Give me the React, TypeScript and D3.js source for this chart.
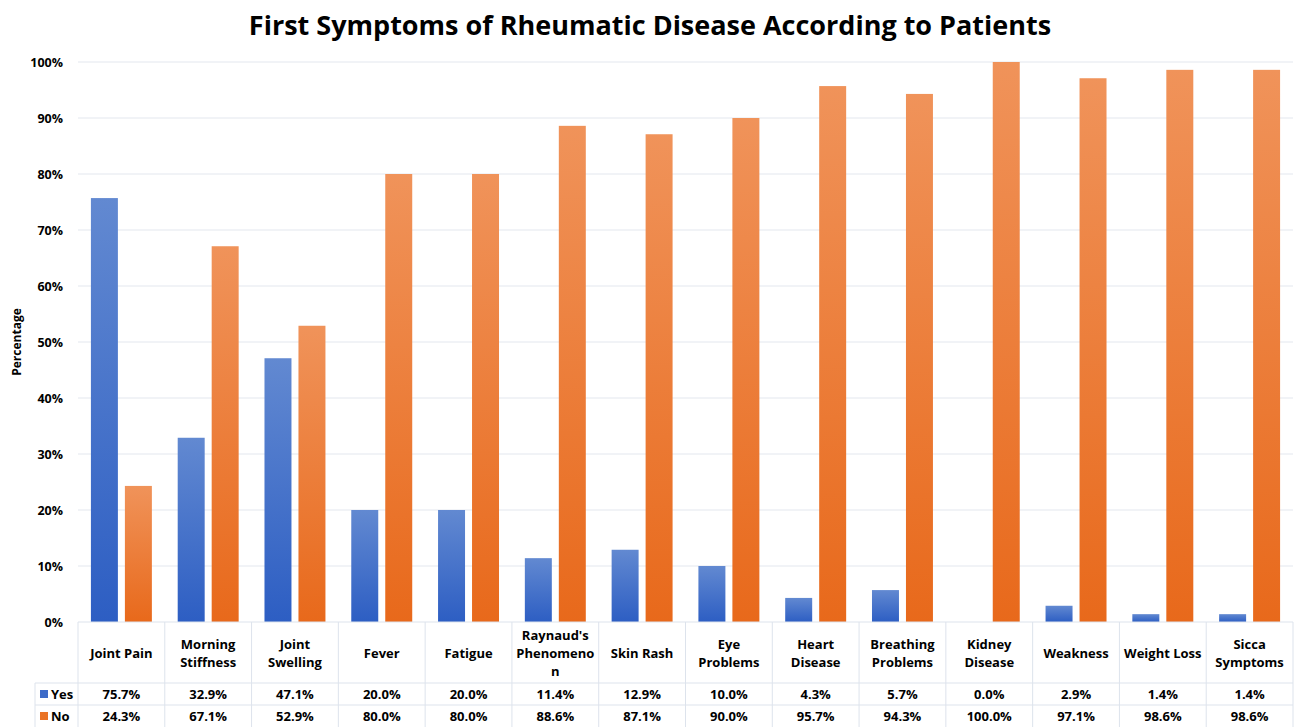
import React from "react";
import * as d3 from "d3";

const categories: string[][] = [
  ["Joint Pain"],
  ["Morning", "Stiffness"],
  ["Joint", "Swelling"],
  ["Fever"],
  ["Fatigue"],
  ["Raynaud's", "Phenomeno", "n"],
  ["Skin Rash"],
  ["Eye", "Problems"],
  ["Heart", "Disease"],
  ["Breathing", "Problems"],
  ["Kidney", "Disease"],
  ["Weakness"],
  ["Weight Loss"],
  ["Sicca", "Symptoms"],
];
const yesValues = [75.7, 32.9, 47.1, 20.0, 20.0, 11.4, 12.9, 10.0, 4.3, 5.7, 0.0, 2.9, 1.4, 1.4];
const noValues = [24.3, 67.1, 52.9, 80.0, 80.0, 88.6, 87.1, 90.0, 95.7, 94.3, 100.0, 97.1, 98.6, 98.6];
const yTicks = [0, 10, 20, 30, 40, 50, 60, 70, 80, 90, 100];
const seriesNames = ["Yes", "No"];

const W = 1296, H = 727;
const left = 78, right = 1293, top = 62, bottom = 622;
const catRowBottom = 683, yesRowBottom = 705, noRowBottom = 727;
const legendLeft = 35;
const font = "'Open Sans', sans-serif";

export default function App() {
  const idx = categories.map((_, i) => String(i));
  const x = d3.scaleBand<string>().domain(idx).range([left, right]).paddingInner(0).paddingOuter(0);
  const y = d3.scaleLinear().domain([0, 100]).range([bottom, top]);
  const bw = x.bandwidth();
  const inner = d3.scaleBand<string>().domain(seriesNames).range([0, bw]).paddingInner(0.206).paddingOuter(0.38);
  const colors = ["url(#gBlue)", "url(#gOrange)"];
  const legendColors = ["#3d6bc8", "#ea7325"];
  const series = [yesValues, noValues];
  const border = "#dde3ec";

  return (
    <svg width={W} height={H} style={{ position: "absolute", left: 0, top: 0 }} fontFamily={font}>
      <defs>
        <linearGradient id="gBlue" x1="0" y1="0" x2="0" y2="1">
          <stop offset="0" stopColor="#6289d1" />
          <stop offset="1" stopColor="#2d5ec3" />
        </linearGradient>
        <linearGradient id="gOrange" x1="0" y1="0" x2="0" y2="1">
          <stop offset="0" stopColor="#f0935a" />
          <stop offset="1" stopColor="#e8691b" />
        </linearGradient>
      </defs>
      <rect width={W} height={H} fill="#fff" />
      <text x={650} y={35} textAnchor="middle" fontSize={27} fontWeight="bold" fill="#000">
        First Symptoms of Rheumatic Disease According to Patients
      </text>
      {yTicks.map((t) => (
        <g key={t}>
          {t > 0 && <line x1={left} x2={right} y1={y(t)} y2={y(t)} stroke="#e3e7ee" strokeWidth={1} />}
          <text x={63} y={y(t) + 4.5} textAnchor="end" fontSize={12.5} fontWeight="bold" fill="#000">
            {t}%
          </text>
        </g>
      ))}
      <text transform={`translate(21,${(top + bottom) / 2}) rotate(-90)`} textAnchor="middle" fontSize={12} fontWeight="bold" fill="#000">
        Percentage
      </text>
      {series.map((vals, s) =>
        vals.map((v, i) => (
          <rect
            key={`${s}-${i}`}
            x={(x(String(i)) as number) + (inner(seriesNames[s]) as number)}
            y={y(v)}
            width={inner.bandwidth()}
            height={bottom - y(v)}
            fill={colors[s]}
          />
        ))
      )}
      {/* table */}
      <line x1={left} x2={right} y1={bottom} y2={bottom} stroke={border} />
      <line x1={legendLeft} x2={right} y1={catRowBottom} y2={catRowBottom} stroke={border} />
      <line x1={legendLeft} x2={right} y1={yesRowBottom} y2={yesRowBottom} stroke={border} />
      <line x1={legendLeft} x2={legendLeft} y1={catRowBottom} y2={noRowBottom} stroke={border} />
      {idx.map((k) => (
        <line key={k} x1={x(k) as number} x2={x(k) as number} y1={bottom} y2={noRowBottom} stroke={border} />
      ))}
      <line x1={right} x2={right} y1={bottom} y2={noRowBottom} stroke={border} />
      {categories.map((lines, i) => {
        const cx = (x(String(i)) as number) + bw / 2;
        const midY = (bottom + catRowBottom) / 2;
        const lh = 18;
        const start = midY - ((lines.length - 1) * lh) / 2 + 5;
        return (
          <g key={i}>
            {lines.map((l, j) => (
              <text key={j} x={cx} y={start + j * lh} textAnchor="middle" fontSize={13} fontWeight="bold" fill="#000">
                {l}
              </text>
            ))}
            <text x={cx} y={(catRowBottom + yesRowBottom) / 2 + 5} textAnchor="middle" fontSize={13} fontWeight="bold" fill="#000">
              {yesValues[i].toFixed(1)}%
            </text>
            <text x={cx} y={(yesRowBottom + noRowBottom) / 2 + 5} textAnchor="middle" fontSize={13} fontWeight="bold" fill="#000">
              {noValues[i].toFixed(1)}%
            </text>
          </g>
        );
      })}
      {seriesNames.map((n, s) => {
        const cy = s === 0 ? (catRowBottom + yesRowBottom) / 2 : (yesRowBottom + noRowBottom) / 2;
        return (
          <g key={n}>
            <rect x={40} y={cy - 4} width={8} height={8} fill={legendColors[s]} />
            <text x={51} y={cy + 5} fontSize={13} fontWeight="bold" fill="#000">
              {n}
            </text>
          </g>
        );
      })}
    </svg>
  );
}
